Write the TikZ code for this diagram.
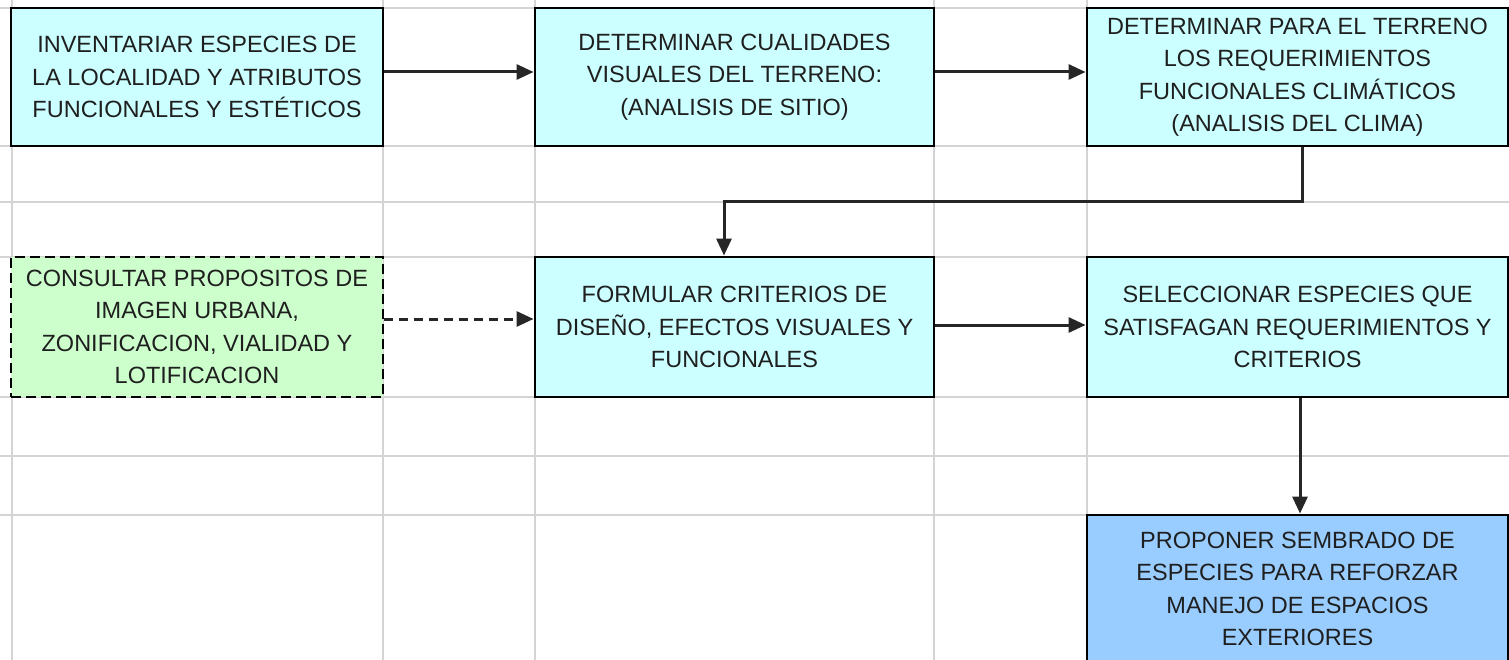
\documentclass[tikz,border=0pt]{standalone}
\usepackage{fontspec}
\setmainfont{Liberation Sans}
\usetikzlibrary{arrows.meta,calc}
\definecolor{cyanbox}{HTML}{CCFFFF}
\definecolor{greenbox}{HTML}{CCFFCC}
\definecolor{bluebox}{HTML}{99CCFF}
\definecolor{gridgray}{HTML}{D4D4D4}
\begin{document}
\begin{tikzpicture}[x=1pt,y=-1pt,
  gridline/.style={draw=gridgray,line width=1.4pt},
  box/.style={draw=black,line width=2.9pt,rectangle,inner sep=0pt,align=center,
    font=\fontsize{23.5}{32.5}\selectfont,text=black!88},
  cbox/.style={box,fill=cyanbox},
  arr/.style={draw=black!85,line width=3pt,-{Triangle[length=17pt,width=15pt]}},
  darr/.style={arr,dash pattern=on 9pt off 6pt}
]
\useasboundingbox (0,0) rectangle (1509,660);
% grid
\foreach \gx in {12,383,535,934,1087}{\draw[gridline] (\gx,0) -- (\gx,660);}
\foreach \gy in {8,146,202,257,397,456,515}{\draw[gridline] (0,\gy) -- (1509,\gy);}
% boxes
\node[cbox,minimum width=372pt,minimum height=138pt] (b1) at (197,77)
  {INVENTARIAR ESPECIES DE\\LA LOCALIDAD Y ATRIBUTOS\\FUNCIONALES Y ESTÉTICOS};
\node[cbox,minimum width=399pt,minimum height=138pt] (b2) at (734.5,77)
  {DETERMINAR CUALIDADES\\VISUALES DEL TERRENO:\\(ANALISIS DE SITIO)};
\node[cbox,minimum width=421pt,minimum height=138pt] (b3) at (1297.5,77)
  {DETERMINAR PARA EL TERRENO\\LOS REQUERIMIENTOS\\FUNCIONALES CLIMÁTICOS\\(ANALISIS DEL CLIMA)};
\node[box,fill=greenbox,dash pattern=on 10pt off 5pt,minimum width=372pt,minimum height=140pt] (b4) at (197,327)
  {CONSULTAR PROPOSITOS DE\\IMAGEN URBANA,\\ZONIFICACION, VIALIDAD Y\\LOTIFICACION};
\node[cbox,minimum width=399pt,minimum height=140pt] (b5) at (734.5,327)
  {FORMULAR CRITERIOS DE\\DISEÑO, EFECTOS VISUALES Y\\FUNCIONALES};
\node[cbox,minimum width=421pt,minimum height=140pt] (b6) at (1297.5,327)
  {SELECCIONAR ESPECIES QUE\\SATISFAGAN REQUERIMIENTOS Y\\CRITERIOS};
\node[box,fill=bluebox,minimum width=421pt,minimum height=148pt] (b7) at (1297.5,589)
  {PROPONER SEMBRADO DE\\ESPECIES PARA REFORZAR\\MANEJO DE ESPACIOS\\EXTERIORES};
% connectors
\coordinate (r1) at (0,72);
\coordinate (k1) at (1302,202);
\coordinate (k2) at (724,202);
\coordinate (r2) at (0,319);
\coordinate (r3) at (0,325);
\coordinate (k3) at (1300,456);
\draw[arr] (b1.east |- r1) -- (b2.west |- r1);
\draw[arr] (b2.east |- r1) -- (b3.west |- r1);
\draw[arr] (b3.south -| k1) -- (k1) -- (k2) -- (b5.north -| k2);
\draw[darr] (b4.east |- r2) -- (b5.west |- r2);
\draw[arr] (b5.east |- r3) -- (b6.west |- r3);
\draw[arr] (b6.south -| k3) -- (b7.north -| k3);
\end{tikzpicture}
\end{document}
